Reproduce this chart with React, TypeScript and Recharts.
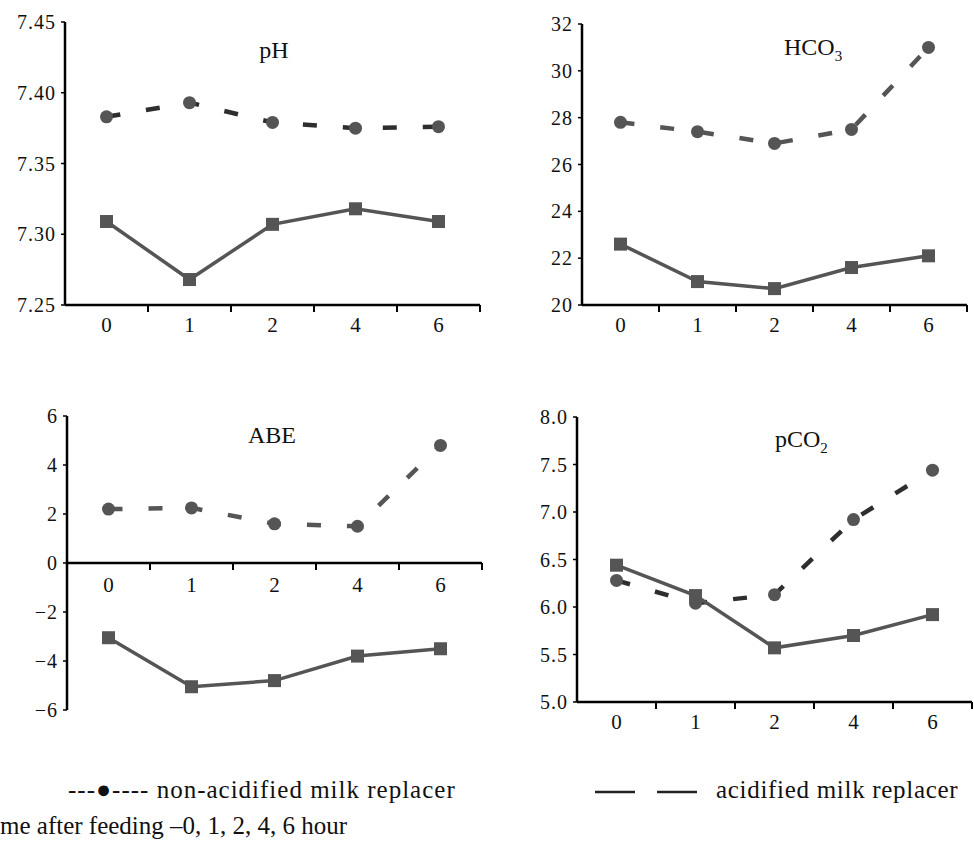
import React from "react";
import { LineChart, Line, XAxis, YAxis, ReferenceLine } from "recharts";

// sampling times after feeding (hours)
const hours = ["0", "1", "2", "4", "6"];

const phNonAcid = [7.383, 7.393, 7.379, 7.375, 7.376];
const phAcid = [7.309, 7.268, 7.307, 7.318, 7.309];
const phTicks = [7.25, 7.3, 7.35, 7.4, 7.45];

const hco3NonAcid = [27.8, 27.4, 26.9, 27.5, 31.0];
const hco3Acid = [22.6, 21.0, 20.7, 21.6, 22.1];
const hco3Ticks = [20, 22, 24, 26, 28, 30, 32];

const abeNonAcid = [2.2, 2.25, 1.6, 1.5, 4.8];
const abeAcid = [-3.05, -5.05, -4.8, -3.8, -3.5];
const abeTicks = [-6, -4, -2, 0, 2, 4, 6];

const pco2NonAcid = [6.28, 6.04, 6.13, 6.92, 7.44];
const pco2Acid = [6.44, 6.12, 5.57, 5.7, 5.92];
const pco2Ticks = [5.0, 5.5, 6.0, 6.5, 7.0, 7.5, 8.0];

const SERIF = '"Liberation Serif", "DejaVu Serif", serif';
const MARK = "#555555";
const INK = "#111111";

const buildRows = (nonAcid: number[], acid: number[]) =>
  hours.map((hour, i) => ({ hour, nonAcid: nonAcid[i], acid: acid[i] }));

const squareDot = (p: any) => (
  <rect
    key={`sq-${p.index}`}
    x={p.cx - 6.5}
    y={p.cy - 6.5}
    width={13}
    height={13}
    fill={MARK}
  />
);

// category labels centred in each band, tick marks between the bands
const bandTick = (props: any) => {
  const { x, y, width, payload } = props;
  const band = width / hours.length;
  return (
    <g>
      <line
        x1={x + band / 2}
        x2={x + band / 2}
        y1={y}
        y2={y + 7}
        stroke="#000"
        strokeWidth={2}
      />
      <text
        x={x}
        y={y + 27}
        textAnchor="middle"
        fontFamily={SERIF}
        fontSize={21}
        fill={INK}
      >
        {payload.value}
      </text>
    </g>
  );
};

const valueTick = (fmt: (v: number) => string) => (props: any) => (
  <text
    x={props.x}
    y={props.y}
    dy={7}
    textAnchor="end"
    fontFamily={SERIF}
    fontSize={20}
    letterSpacing={1}
    fill={INK}
  >
    {fmt(props.payload.value)}
  </text>
);

// ABE: the category axis sits on the zero line
const zeroAxis = (props: any) => {
  const { x, y, width } = props.viewBox;
  const band = width / hours.length;
  return (
    <g>
      {hours.map((h, i) => (
        <g key={h}>
          <line
            x1={x + (i + 1) * band}
            x2={x + (i + 1) * band}
            y1={y}
            y2={y + 7}
            stroke="#000"
            strokeWidth={2}
          />
          <text
            x={x + (i + 0.5) * band}
            y={y + 29}
            textAnchor="middle"
            fontFamily={SERIF}
            fontSize={21}
            fill={INK}
          >
            {h}
          </text>
        </g>
      ))}
    </g>
  );
};

type PanelProps = {
  left: number;
  top: number;
  width: number;
  height: number;
  margin: { top: number; right: number; bottom: number; left: number };
  rows: any[];
  domain: [number, number];
  ticks: number[];
  fmt: (v: number) => string;
  dashColor: string;
  onZero?: boolean;
};

function Panel(p: PanelProps) {
  return (
    <div style={{ position: "absolute", left: p.left, top: p.top }}>
      <LineChart width={p.width} height={p.height} data={p.rows} margin={p.margin}>
        <XAxis
          dataKey="hour"
          scale="band"
          interval={0}
          hide={p.onZero}
          height={35}
          axisLine={{ stroke: "#000", strokeWidth: 2.5 }}
          tickLine={false}
          tickSize={0}
          tickMargin={0}
          tick={bandTick}
        />
        <YAxis
          type="number"
          domain={p.domain}
          ticks={p.ticks}
          interval={0}
          width={65}
          allowDataOverflow
          axisLine={{ stroke: "#000", strokeWidth: 2.5 }}
          tickLine={{ stroke: "#000", strokeWidth: 1.5 }}
          tickSize={4}
          tickMargin={5}
          tick={valueTick(p.fmt)}
        />
        {p.onZero && (
          <ReferenceLine y={0} stroke="#000" strokeWidth={2.5} label={zeroAxis} />
        )}
        <Line
          dataKey="nonAcid"
          stroke={p.dashColor}
          strokeWidth={4.5}
          strokeDasharray="14 26"
          dot={{ r: 6.5, fill: MARK, stroke: MARK, strokeWidth: 0 }}
          isAnimationActive={false}
        />
        <Line
          dataKey="acid"
          stroke={MARK}
          strokeWidth={3.5}
          dot={squareDot}
          isAnimationActive={false}
        />
      </LineChart>
    </div>
  );
}

const minus = (v: number) => (v < 0 ? `\u2212${Math.abs(v)}` : `${v}`);

export default function App() {
  return (
    <div
      style={{
        position: "absolute",
        left: 0,
        top: 0,
        width: 974,
        height: 862,
        overflow: "hidden",
        background: "#fff",
      }}
    >
      <Panel
        left={0}
        top={0}
        width={490}
        height={340}
        margin={{ top: 22, right: 10, bottom: 0, left: 0 }}
        rows={buildRows(phNonAcid, phAcid)}
        domain={[7.25, 7.45]}
        ticks={phTicks}
        fmt={(v) => v.toFixed(2)}
        dashColor="#2e2e2e"
      />
      <Panel
        left={490}
        top={0}
        width={484}
        height={340}
        margin={{ top: 24, right: 7, bottom: 0, left: 27 }}
        rows={buildRows(hco3NonAcid, hco3Acid)}
        domain={[20, 32]}
        ticks={hco3Ticks}
        fmt={(v) => `${v}`}
        dashColor="#555"
      />
      <Panel
        left={0}
        top={400}
        width={490}
        height={320}
        margin={{ top: 16, right: 8, bottom: 10, left: 2 }}
        rows={buildRows(abeNonAcid, abeAcid)}
        domain={[-6, 6]}
        ticks={abeTicks}
        fmt={minus}
        dashColor="#555"
        onZero
      />
      <Panel
        left={490}
        top={400}
        width={484}
        height={337}
        margin={{ top: 17, right: 2, bottom: 0, left: 22 }}
        rows={buildRows(pco2NonAcid, pco2Acid)}
        domain={[5, 8]}
        ticks={pco2Ticks}
        fmt={(v) => v.toFixed(1)}
        dashColor="#2e2e2e"
      />

      <svg
        width={974}
        height={862}
        style={{ position: "absolute", left: 0, top: 0, pointerEvents: "none" }}
        fontFamily={SERIF}
        fill={INK}
      >
        <text x={274} y={58} textAnchor="middle" fontSize={24}>
          pH
        </text>
        <text x={784} y={55} fontSize={24}>
          HCO<tspan dy={6} fontSize={15}>3</tspan>
        </text>
        <text x={272} y={443} textAnchor="middle" fontSize={24}>
          ABE
        </text>
        <text x={775} y={447} fontSize={24}>
          pCO<tspan dy={6} fontSize={15}>2</tspan>
        </text>

        <g fontSize={25}>
          <text x={68} y={798} letterSpacing={1}>
            ---●---- non-acidified milk replacer
          </text>
          <text x={716} y={798} letterSpacing={0.7}>
            acidified milk replacer
          </text>
          <text x={0} y={834}>
            me after feeding –0, 1, 2, 4, 6 hour
          </text>
        </g>
        <line x1={595} x2={635} y1={792} y2={792} stroke="#222" strokeWidth={2.5} />
        <line x1={657} x2={697} y1={792} y2={792} stroke="#222" strokeWidth={2.5} />
      </svg>
    </div>
  );
}
